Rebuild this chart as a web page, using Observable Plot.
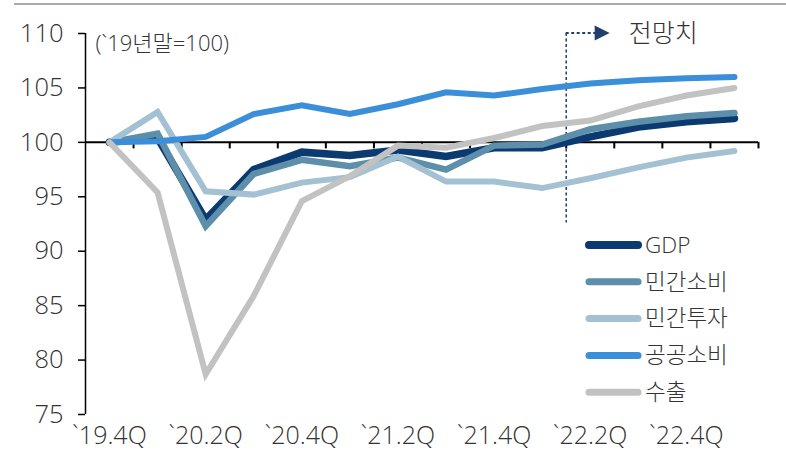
<!DOCTYPE html>
<html><head><meta charset="utf-8">
<script src="https://cdn.jsdelivr.net/npm/d3@7"></script>
<script src="https://cdn.jsdelivr.net/npm/@observablehq/plot@0.6"></script>
<style>
body{margin:0;background:#fff;}
#wrap{position:relative;width:786px;height:455px;overflow:hidden;}
#rule{position:absolute;left:14px;right:0;top:3px;height:2px;background:#ababab;}
svg text{font-weight:300;}
</style></head><body><div id="wrap"><div id="rule"></div></div>
<script>
const quarters = ["`19.4Q","`20.1Q","`20.2Q","`20.3Q","`20.4Q","`21.1Q","`21.2Q","`21.3Q","`21.4Q","`22.1Q","`22.2Q","`22.3Q","`22.4Q","`23.1Q"];
const gdp      = [100, 100.4, 92.9, 97.5, 99.1, 98.8, 99.3, 98.7, 99.5, 99.5, 100.5, 101.4, 101.9, 102.2];
const privCons = [100, 100.8, 92.3, 97.1, 98.4, 97.8, 98.6, 97.5, 99.7, 99.8, 101.2, 101.9, 102.4, 102.7];
const privInv  = [100, 102.8, 95.5, 95.2, 96.3, 96.8, 98.7, 96.4, 96.4, 95.8, 96.7, 97.7, 98.6, 99.2];
const govCons  = [100, 100.1, 100.5, 102.6, 103.4, 102.6, 103.5, 104.6, 104.3, 104.9, 105.4, 105.7, 105.9, 106.0];
const exports  = [100, 95.4, 78.7, 85.9, 94.6, 96.9, 99.7, 99.5, 100.4, 101.5, 102.0, 103.3, 104.3, 105.0];
const seriesNames = ["GDP","민간소비","민간투자","공공소비","수출"];
const seriesColors = ["#0b3a70","#5d8fab","#a3c1d3","#3b8fd8","#c2c2c2"];
const seriesWidths = [7.5, 6.5, 6, 6, 6];
const yTicks = [75,80,85,90,95,100,105,110];
const baseValue = 100;
const forecastStart = "`22.2Q";
const forecastLabel = "전망치";
const unitLabel = "(`19년말=100)";

const valuesList = [gdp, privCons, privInv, govCons, exports];
const font = "'Open Sans','Noto Sans CJK KR',sans-serif";
const textColor = "#333333";
const idx = quarters.map((q,i)=>i);
const labelIdx = idx.filter(i=>i%2===0);
const boundaries = idx.map(i=>i+0.5);
const fx = quarters.indexOf(forecastStart) - 0.5;

const lineMarks = valuesList.map((vals,s)=>Plot.line(vals.map((v,i)=>({i,v})), {
  x:"i", y:"v", stroke: seriesColors[s], strokeWidth: seriesWidths[s],
  strokeLinejoin:"miter", strokeMiterlimit: 4, strokeLinecap:"round"
}));

const plot = Plot.plot({
  width:786, height:455, marginLeft:85, marginRight:28, marginTop:33, marginBottom:41,
  style:{fontFamily:font, fontSize:"22px", color:textColor, background:"transparent", overflow:"visible"},
  x:{domain:[-0.5, quarters.length-0.5], axis:null},
  y:{domain:[75,110]},
  marks:[
    Plot.axisY({ticks:yTicks, tickSize:7, tickPadding:15, fontSize:25.5, tickFormat:d=>d, stroke:"#000", strokeWidth:1.5, label:null, fill:textColor}),
    Plot.ruleX([-0.5], {stroke:"#000", strokeWidth:1.5}),
    Plot.ruleY([baseValue], {stroke:"#000", strokeWidth:2}),
    Plot.ruleX(boundaries, {y1:baseValue, y2:baseValue-0.6, stroke:"#000", strokeWidth:2}),
    Plot.text(labelIdx, {x:d=>d, text:d=>quarters[d], frameAnchor:"bottom", dy:29, fontSize:25, fill:textColor}),
    Plot.ruleX([fx], {y1:110, y2:92.6, stroke:"#1f3f6e", strokeDasharray:"3,2.5", strokeWidth:1.5}),
    ...lineMarks,
    Plot.text([unitLabel], {frameAnchor:"top-left", dx:10, dy:10, lineAnchor:"middle", textAnchor:"start", fontSize:22, fill:textColor})
  ]
});
document.getElementById("wrap").appendChild(plot);

const svg = d3.select(plot);
const sx = plot.scale("x"), sy = plot.scale("y");
const ax = sx.apply(fx), ay = sy.apply(110);
const g = svg.append("g").attr("text-anchor","start");
g.append("line").attr("x1",ax).attr("x2",ax+30).attr("y1",ay).attr("y2",ay)
  .attr("stroke","#1f3f6e").attr("stroke-width",2).attr("stroke-dasharray","3,2.5");
g.append("path").attr("d",`M${ax+29},${ay-7.5}L${ax+44},${ay}L${ax+29},${ay+7.5}Z`).attr("fill","#1f3f6e");
g.append("text").attr("x",ax+63).attr("y",ay).attr("dy","0.35em").attr("text-anchor","start")
  .attr("font-size",25).attr("fill",textColor).attr("font-family",font).text(forecastLabel);

const leg = svg.append("g").attr("text-anchor","start");
seriesNames.forEach((n,s)=>{
  const y = 245 + s*36.8;
  leg.append("line").attr("x1",589).attr("x2",638).attr("y1",y).attr("y2",y)
    .attr("stroke",seriesColors[s]).attr("stroke-width",s===0?8:7).attr("stroke-linecap","round");
  leg.append("text").attr("x",645).attr("y",y).attr("dy","0.35em").attr("text-anchor","start")
    .attr("font-size",22.5).attr("fill",textColor).attr("font-family",font).text(n);
});
</script></body></html>
